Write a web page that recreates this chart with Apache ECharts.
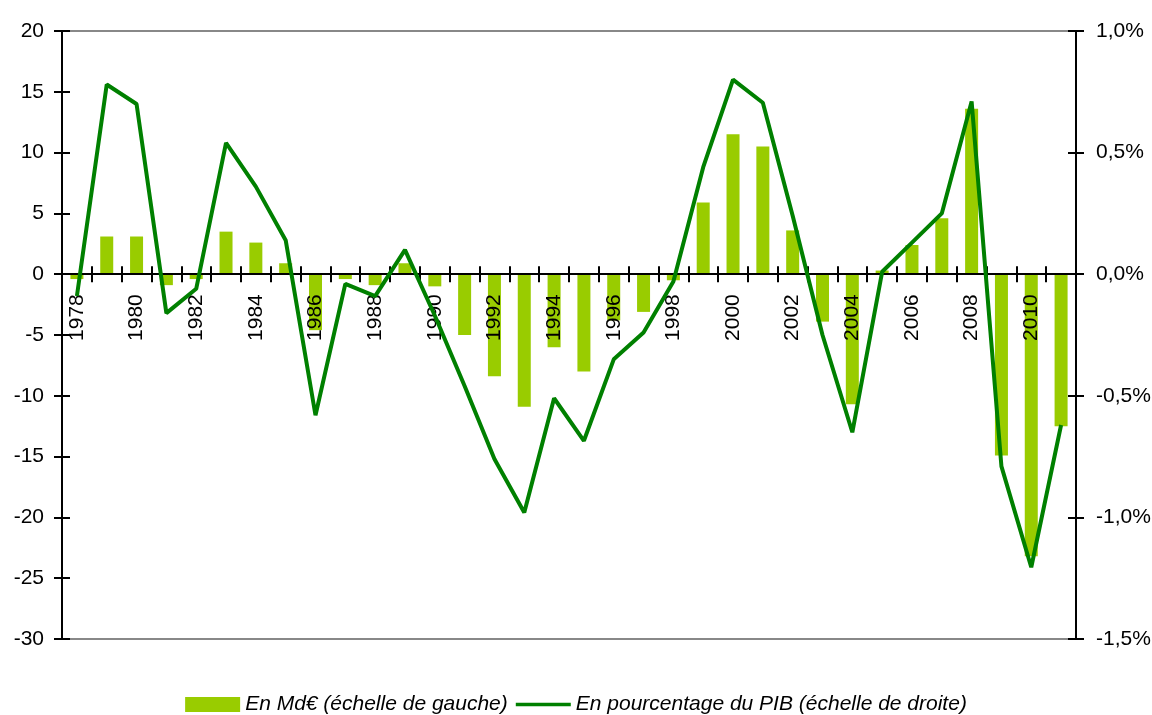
<!DOCTYPE html>
<html>
<head>
<meta charset="utf-8">
<script src="https://cdn.jsdelivr.net/npm/echarts@6/dist/echarts.min.js"></script>
<style>
  html, body { margin: 0; padding: 0; background: #fff; }
  #chart { width: 1152px; height: 715px; }
</style>
</head>
<body>
<div id="chart"></div>
<script>
var years = ['1978', '1979', '1980', '1981', '1982', '1983', '1984', '1985', '1986', '1987',
    '1988', '1989', '1990', '1991', '1992', '1993', '1994', '1995', '1996', '1997',
    '1998', '1999', '2000', '2001', '2002', '2003', '2004', '2005', '2006', '2007',
    '2008', '2009', '2010', '2011'];

// En Md€ (échelle de gauche)
var montants = [-0.4, 3.1, 3.1, -0.9, -0.4, 3.5, 2.6, 0.9, -4.6, -0.4,
    -0.9, 0.9, -1.0, -5.0, -8.4, -10.9, -6.0, -8.0, -3.8, -3.1,
    -0.5, 5.9, 11.5, 10.5, 3.6, -3.9, -10.7, 0.3, 2.4, 4.6,
    13.6, -14.9, -23.2, -12.5];

// En pourcentage du PIB (échelle de droite)
var pctPib = [-0.09, 0.78, 0.70, -0.16, -0.06, 0.54, 0.36, 0.14, -0.58, -0.04,
    -0.09, 0.10, -0.17, -0.46, -0.76, -0.98, -0.51, -0.685, -0.35, -0.24,
    -0.03, 0.44, 0.80, 0.705, 0.24, -0.25, -0.65, 0.01, 0.13, 0.25,
    0.71, -0.79, -1.205, -0.62];

var nomBarres = 'En Md€ (échelle de gauche)';
var nomLigne = 'En pourcentage du PIB (échelle de droite)';

var police = '"Liberation Sans", Arial, sans-serif';

var gridTop = 31, gridBottom = 76, chartH = 715;
// l'axe des x est remonté sur la ligne du zéro (échelle -30..20)
var plotH = chartH - gridTop - gridBottom;
var xOffset = -plotH * 30 / 50;

var chart = echarts.init(document.getElementById('chart'));

var tickStyle = { color: '#000', width: 2 };

chart.setOption({
    animation: false,
    textStyle: { fontFamily: police },
    grid: {
        left: 62, right: 76, top: gridTop, bottom: gridBottom,
        outerBoundsMode: 'none',
        containLabel: false,
        show: true, borderColor: '#888', borderWidth: 2
    },
    legend: {
        top: 689,
        left: 'center',
        itemWidth: 55,
        itemHeight: 15,
        itemGap: 8,
        data: [
            { name: nomBarres, icon: 'rect' },
            { name: nomLigne, icon: 'path://M0,0H60V4H0Z' }
        ],
        textStyle: { fontFamily: police, fontSize: 21, fontStyle: 'italic', color: '#000' }
    },
    xAxis: [{
        type: 'category',
        data: years,
        position: 'bottom',
        offset: xOffset,
        z: 3,
        axisLine: { show: true, onZero: false, lineStyle: { color: '#000', width: 2 } },
        axisTick: { show: true, interval: 0, length: 8, lineStyle: tickStyle },
        axisLabel: { interval: 1, rotate: 90, margin: 20, color: '#000', fontSize: 21, fontFamily: police, hideOverlap: false },
        splitLine: { show: false }
    }, {
        // coches vers le haut (coche croisant l'axe)
        type: 'category',
        data: years,
        position: 'bottom',
        offset: xOffset,
        z: 3,
        axisLine: { show: false, onZero: false },
        axisTick: { show: true, inside: true, interval: 0, length: 8, lineStyle: tickStyle },
        axisLabel: { show: false },
        splitLine: { show: false }
    }],
    yAxis: [{
        type: 'value',
        position: 'left',
        min: -30, max: 20, interval: 5,
        z: 3,
        axisLine: { show: true, lineStyle: { color: '#000', width: 2 } },
        axisTick: { show: true, length: 8, lineStyle: tickStyle },
        axisLabel: { margin: 18, color: '#000', fontSize: 21, fontFamily: police },
        splitLine: { show: false }
    }, {
        type: 'value',
        position: 'right',
        min: -1.5, max: 1.0, interval: 0.5,
        z: 3,
        axisLine: { show: true, lineStyle: { color: '#000', width: 2 } },
        axisTick: { show: true, length: 8, lineStyle: tickStyle },
        axisLabel: {
            margin: 20, color: '#000', fontSize: 21, fontFamily: police,
            formatter: function (v) { return v.toFixed(1).replace('.', ',') + '%'; }
        },
        splitLine: { show: false }
    }, {
        type: 'value',
        position: 'left',
        min: -30, max: 20, interval: 5,
        z: 3,
        axisLine: { show: false },
        axisTick: { show: true, inside: true, length: 8, lineStyle: tickStyle },
        axisLabel: { show: false },
        splitLine: { show: false }
    }, {
        type: 'value',
        position: 'right',
        min: -1.5, max: 1.0, interval: 0.5,
        z: 3,
        axisLine: { show: false },
        axisTick: { show: true, inside: true, length: 8, lineStyle: tickStyle },
        axisLabel: { show: false },
        splitLine: { show: false }
    }],
    series: [{
        name: nomBarres,
        type: 'bar',
        xAxisIndex: 0,
        yAxisIndex: 0,
        barWidth: 13,
        z: 2,
        itemStyle: { color: '#99CC00' },
        data: montants
    }, {
        name: nomLigne,
        type: 'line',
        xAxisIndex: 0,
        yAxisIndex: 1,
        symbol: 'none',
        z: 5,
        lineStyle: { color: '#008000', width: 4 },
        itemStyle: { color: '#008000' },
        data: pctPib
    }]
});
</script>
</body>
</html>
